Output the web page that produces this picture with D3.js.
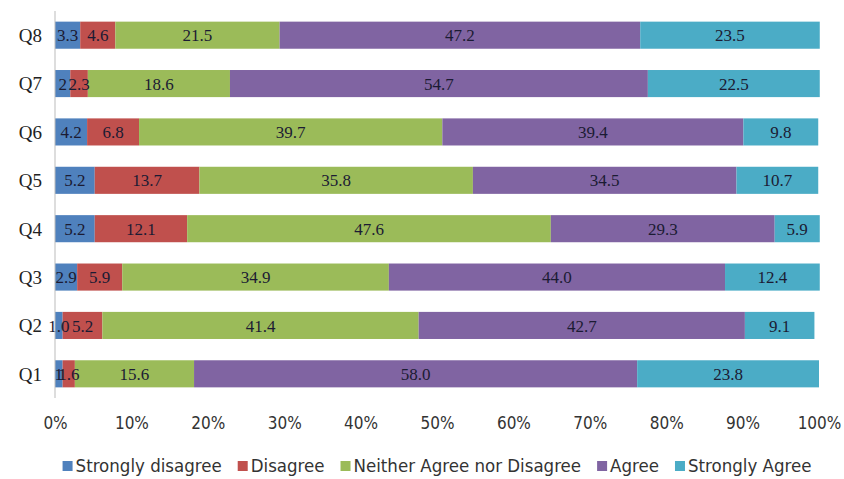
<!DOCTYPE html>
<html>
<head>
<meta charset="utf-8">
<script src="https://cdn.jsdelivr.net/npm/d3@7"></script>
<style>
  body { margin: 0; background: #fff; }
  .axis text { font-family: "DejaVu Sans Condensed", "DejaVu Sans", sans-serif; font-stretch: condensed; font-size: 17px; fill: #333; }
  .ylab text { font-family: "Liberation Serif", serif; font-size: 19px; fill: #222; }
  .val { font-family: "Liberation Serif", serif; font-size: 17px; fill: #1b1b33; }
  .legend text { font-family: "DejaVu Sans Condensed", "DejaVu Sans", sans-serif; font-stretch: condensed; font-size: 18.5px; fill: #333; }
</style>
</head>
<body>
<div id="chart"></div>
<script>
// categories, top to bottom
var questions = ["Q8", "Q7", "Q6", "Q5", "Q4", "Q3", "Q2", "Q1"];
var seriesNames = ["Strongly disagree", "Disagree", "Neither Agree nor Disagree", "Agree", "Strongly Agree"];
var seriesColors = ["#4f81bd", "#c0504d", "#9bbb59", "#8064a2", "#4bacc6"];

// values as printed on the bars, one array per series (Q8..Q1)
var stronglyDisagree = ["3.3", "2", "4.2", "5.2", "5.2", "2.9", "1.0", "1"];
var disagree = ["4.6", "2.3", "6.8", "13.7", "12.1", "5.9", "5.2", "1.6"];
var neither = ["21.5", "18.6", "39.7", "35.8", "47.6", "34.9", "41.4", "15.6"];
var agree = ["47.2", "54.7", "39.4", "34.5", "29.3", "44.0", "42.7", "58.0"];
var stronglyAgree = ["23.5", "22.5", "9.8", "10.7", "5.9", "12.4", "9.1", "23.8"];

var tickLabels = ["0%", "10%", "20%", "30%", "40%", "50%", "60%", "70%", "80%", "90%", "100%"];

var seriesValues = [stronglyDisagree, disagree, neither, agree, stronglyAgree];

var data = questions.map(function (q, i) {
  var row = { q: q };
  seriesNames.forEach(function (s, j) { row[s] = +seriesValues[j][i]; });
  return row;
});

var W = 844, H = 479;
var margin = { top: 11, right: 25, bottom: 81, left: 55 };
var width = W - margin.left - margin.right,
    height = H - margin.top - margin.bottom;

var svg = d3.select("#chart").append("svg")
  .attr("width", W)
  .attr("height", H)
  .append("g")
  .attr("transform", "translate(" + margin.left + "," + margin.top + ")");

var x = d3.scaleLinear().domain([0, 100]).range([0, width]);
var y = d3.scaleBand().domain(questions).range([0, height]).paddingInner(0.44).paddingOuter(0.22);
var color = d3.scaleOrdinal().domain(seriesNames).range(seriesColors);

var stacked = d3.stack().keys(seriesNames)(data);

// bars
var layers = svg.selectAll(".layer")
  .data(stacked)
  .enter().append("g")
  .attr("class", "layer")
  .attr("fill", function (d) { return color(d.key); });

layers.selectAll("rect")
  .data(function (d) { return d; })
  .enter().append("rect")
  .attr("x", function (d) { return x(d[0]); })
  .attr("y", function (d) { return y(d.data.q); })
  .attr("width", function (d) { return x(d[1]) - x(d[0]); })
  .attr("height", y.bandwidth());

// value labels
stacked.forEach(function (layer, j) {
  svg.selectAll(".val-" + j)
    .data(layer)
    .enter().append("text")
    .attr("class", "val")
    .attr("x", function (d) { return x((d[0] + d[1]) / 2); })
    .attr("y", function (d) { return y(d.data.q) + y.bandwidth() / 2; })
    .attr("dy", "0.36em")
    .attr("text-anchor", "middle")
    .text(function (d, i) { return seriesValues[j][i]; });
});

// y axis line + labels
svg.append("line")
  .attr("x1", 0).attr("x2", 0)
  .attr("y1", 0).attr("y2", height)
  .attr("stroke", "#bbb");

var ylab = svg.append("g").attr("class", "ylab");
ylab.selectAll("text")
  .data(questions)
  .enter().append("text")
  .attr("x", -13)
  .attr("y", function (d) { return y(d) + y.bandwidth() / 2; })
  .attr("dy", "0.36em")
  .attr("text-anchor", "end")
  .text(function (d) { return d; });

// x axis (labels only)
var xAxis = d3.axisBottom(x)
  .tickValues(d3.range(0, 101, 10))
  .tickSize(0)
  .tickPadding(19)
  .tickFormat(function (d, i) { return tickLabels[i]; });

svg.append("g")
  .attr("class", "x-axis axis")
  .attr("transform", "translate(0," + height + ")")
  .call(xAxis)
  .call(function (g) { g.select(".domain").remove(); });

// legend
var legend = svg.append("g").attr("class", "legend")
  .attr("transform", "translate(0," + (height + 68) + ")");

var items = legend.selectAll("g")
  .data(seriesNames)
  .enter().append("g");

items.append("rect")
  .attr("width", 10).attr("height", 10)
  .attr("y", -5)
  .attr("fill", function (d) { return color(d); });

items.append("text")
  .attr("x", 13)
  .attr("dy", "0.35em")
  .text(function (d) { return d; });

var pos = 0, gap = 16, offs = [];
items.each(function () {
  offs.push(pos);
  pos += this.getBBox().width + gap;
});
var start = (width - (pos - gap)) / 2;
items.attr("transform", function (d, i) { return "translate(" + (start + offs[i]) + ",0)"; });
</script>
</body>
</html>
